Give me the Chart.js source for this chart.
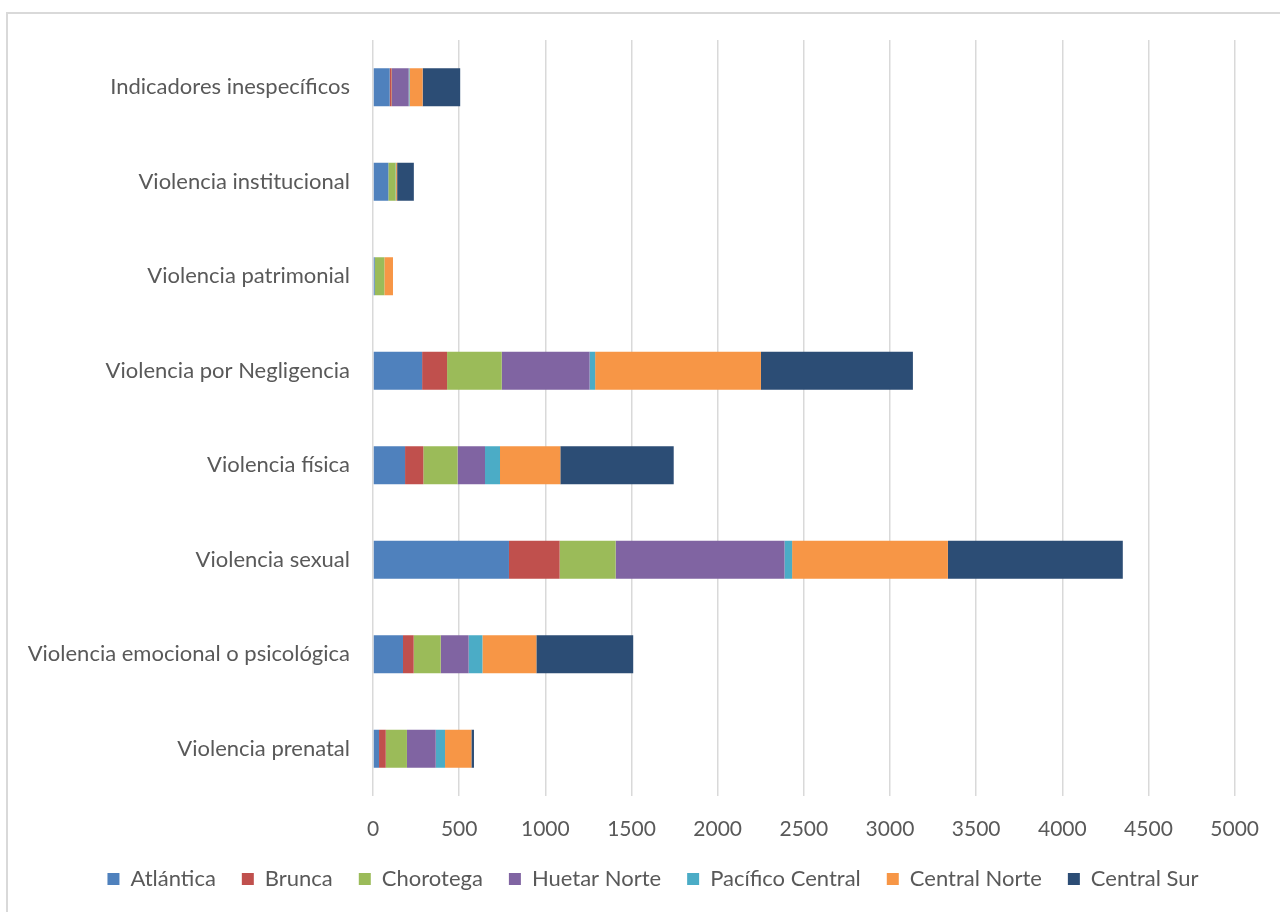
<!DOCTYPE html>
<html lang="es">
<head>
<meta charset="utf-8">
<title>Tipos de violencia por región</title>
<script src="https://cdn.jsdelivr.net/npm/chart.js@4.4.1/dist/chart.umd.min.js"></script>
<style>
  html, body { margin: 0; padding: 0; background: #fff; overflow: hidden; }
  #wrap { position: relative; width: 1280px; height: 912px; }
  #frame {
    position: absolute; left: 6px; top: 12px; width: 1320px; height: 940px;
    border: 2px solid #d9d9d9; box-sizing: border-box; pointer-events: none;
  }
  canvas { position: absolute; left: 0; top: 0; }
</style>
</head>
<body>
<div id="wrap">
  <div id="frame"></div>
  <canvas id="chart" width="1280" height="912"></canvas>
</div>
<script>
// Categories, top to bottom as shown
const categories = [
  'Indicadores inespecíficos',
  'Violencia institucional',
  'Violencia patrimonial',
  'Violencia por Negligencia',
  'Violencia física',
  'Violencia sexual',
  'Violencia emocional o psicológica',
  'Violencia prenatal',
]

// Values per region (same order as categories)
const atlantica       = [97, 89, 10, 285, 186, 789, 174, 35]
const brunca          = [11, 0, 0, 145, 106, 294, 62, 39]
const chorotega       = [2, 42, 56, 317, 199, 325, 157, 123]
const huetarNorte     = [97, 0, 0, 510, 159, 980, 162, 167]
const pacificoCentral = [5, 3, 0, 32, 87, 44, 80, 54]
const centralNorte    = [76, 6, 50, 962, 350, 904, 313, 153]
const centralSur      = [218, 97, 0, 882, 658, 1015, 562, 15]

const seriesNames = ['Atlántica', 'Brunca', 'Chorotega', 'Huetar Norte', 'Pacífico Central', 'Central Norte', 'Central Sur']
const seriesData = [atlantica, brunca, chorotega, huetarNorte, pacificoCentral, centralNorte, centralSur]
const seriesColors = ['#4f81bd', '#c0504d', '#9bbb59', '#8064a2', '#4bacc6', '#f79646', '#2c4d75']

const xTicks = [0, 500, 1000, 1500, 2000, 2500, 3000, 3500, 4000, 4500, 5000]

const FONT = 'Lato, "Noto Sans", sans-serif'
const TEXT = '#595959'

// Legend sits a bit right of the canvas centre in the original
const legendShift = {
  id: 'legendShift',
  afterLayout(chart) {
    const lg = chart.legend
    if (!lg) return
    lg.left += 34
    lg.right += 34
  },
}

const ctx = document.getElementById('chart').getContext('2d')

new Chart(ctx, {
  type: 'bar',
  data: {
    labels: categories,
    datasets: seriesNames.map((name, i) => ({
      label: name,
      data: seriesData[i],
      backgroundColor: seriesColors[i],
      borderWidth: 0,
      categoryPercentage: 1,
      barPercentage: 0.4,
    })),
  },
  options: {
    indexAxis: 'y',
    responsive: false,
    animation: false,
    layout: { padding: { left: 0, right: 42, top: 40, bottom: 12 } },
    scales: {
      x: {
        stacked: true,
        min: 0,
        max: 5000,
        afterBuildTicks: (scale) => { scale.ticks = xTicks.map(v => ({ value: v })) },
        afterFit: (scale) => { scale.height = 46 },
        grid: { color: '#d9d9d9', lineWidth: 1.5, drawTicks: false },
        border: { display: false },
        ticks: {
          color: TEXT,
          padding: 21,
          font: { family: FONT, size: 21 },
          callback: (v) => String(v),
        },
      },
      y: {
        stacked: true,
        afterFit: (scale) => { scale.width = 373 },
        grid: { display: false },
        border: { display: false },
        ticks: { color: TEXT, padding: 15, font: { family: FONT, size: 22 } },
      },
    },
    plugins: {
      legend: {
        position: 'bottom',
        labels: {
          color: TEXT,
          boxWidth: 12,
          boxHeight: 12,
          padding: 26,
          font: { family: FONT, size: 22 },
        },
      },
      tooltip: { enabled: false },
    },
  },
  plugins: [legendShift],
})
</script>
</body>
</html>
